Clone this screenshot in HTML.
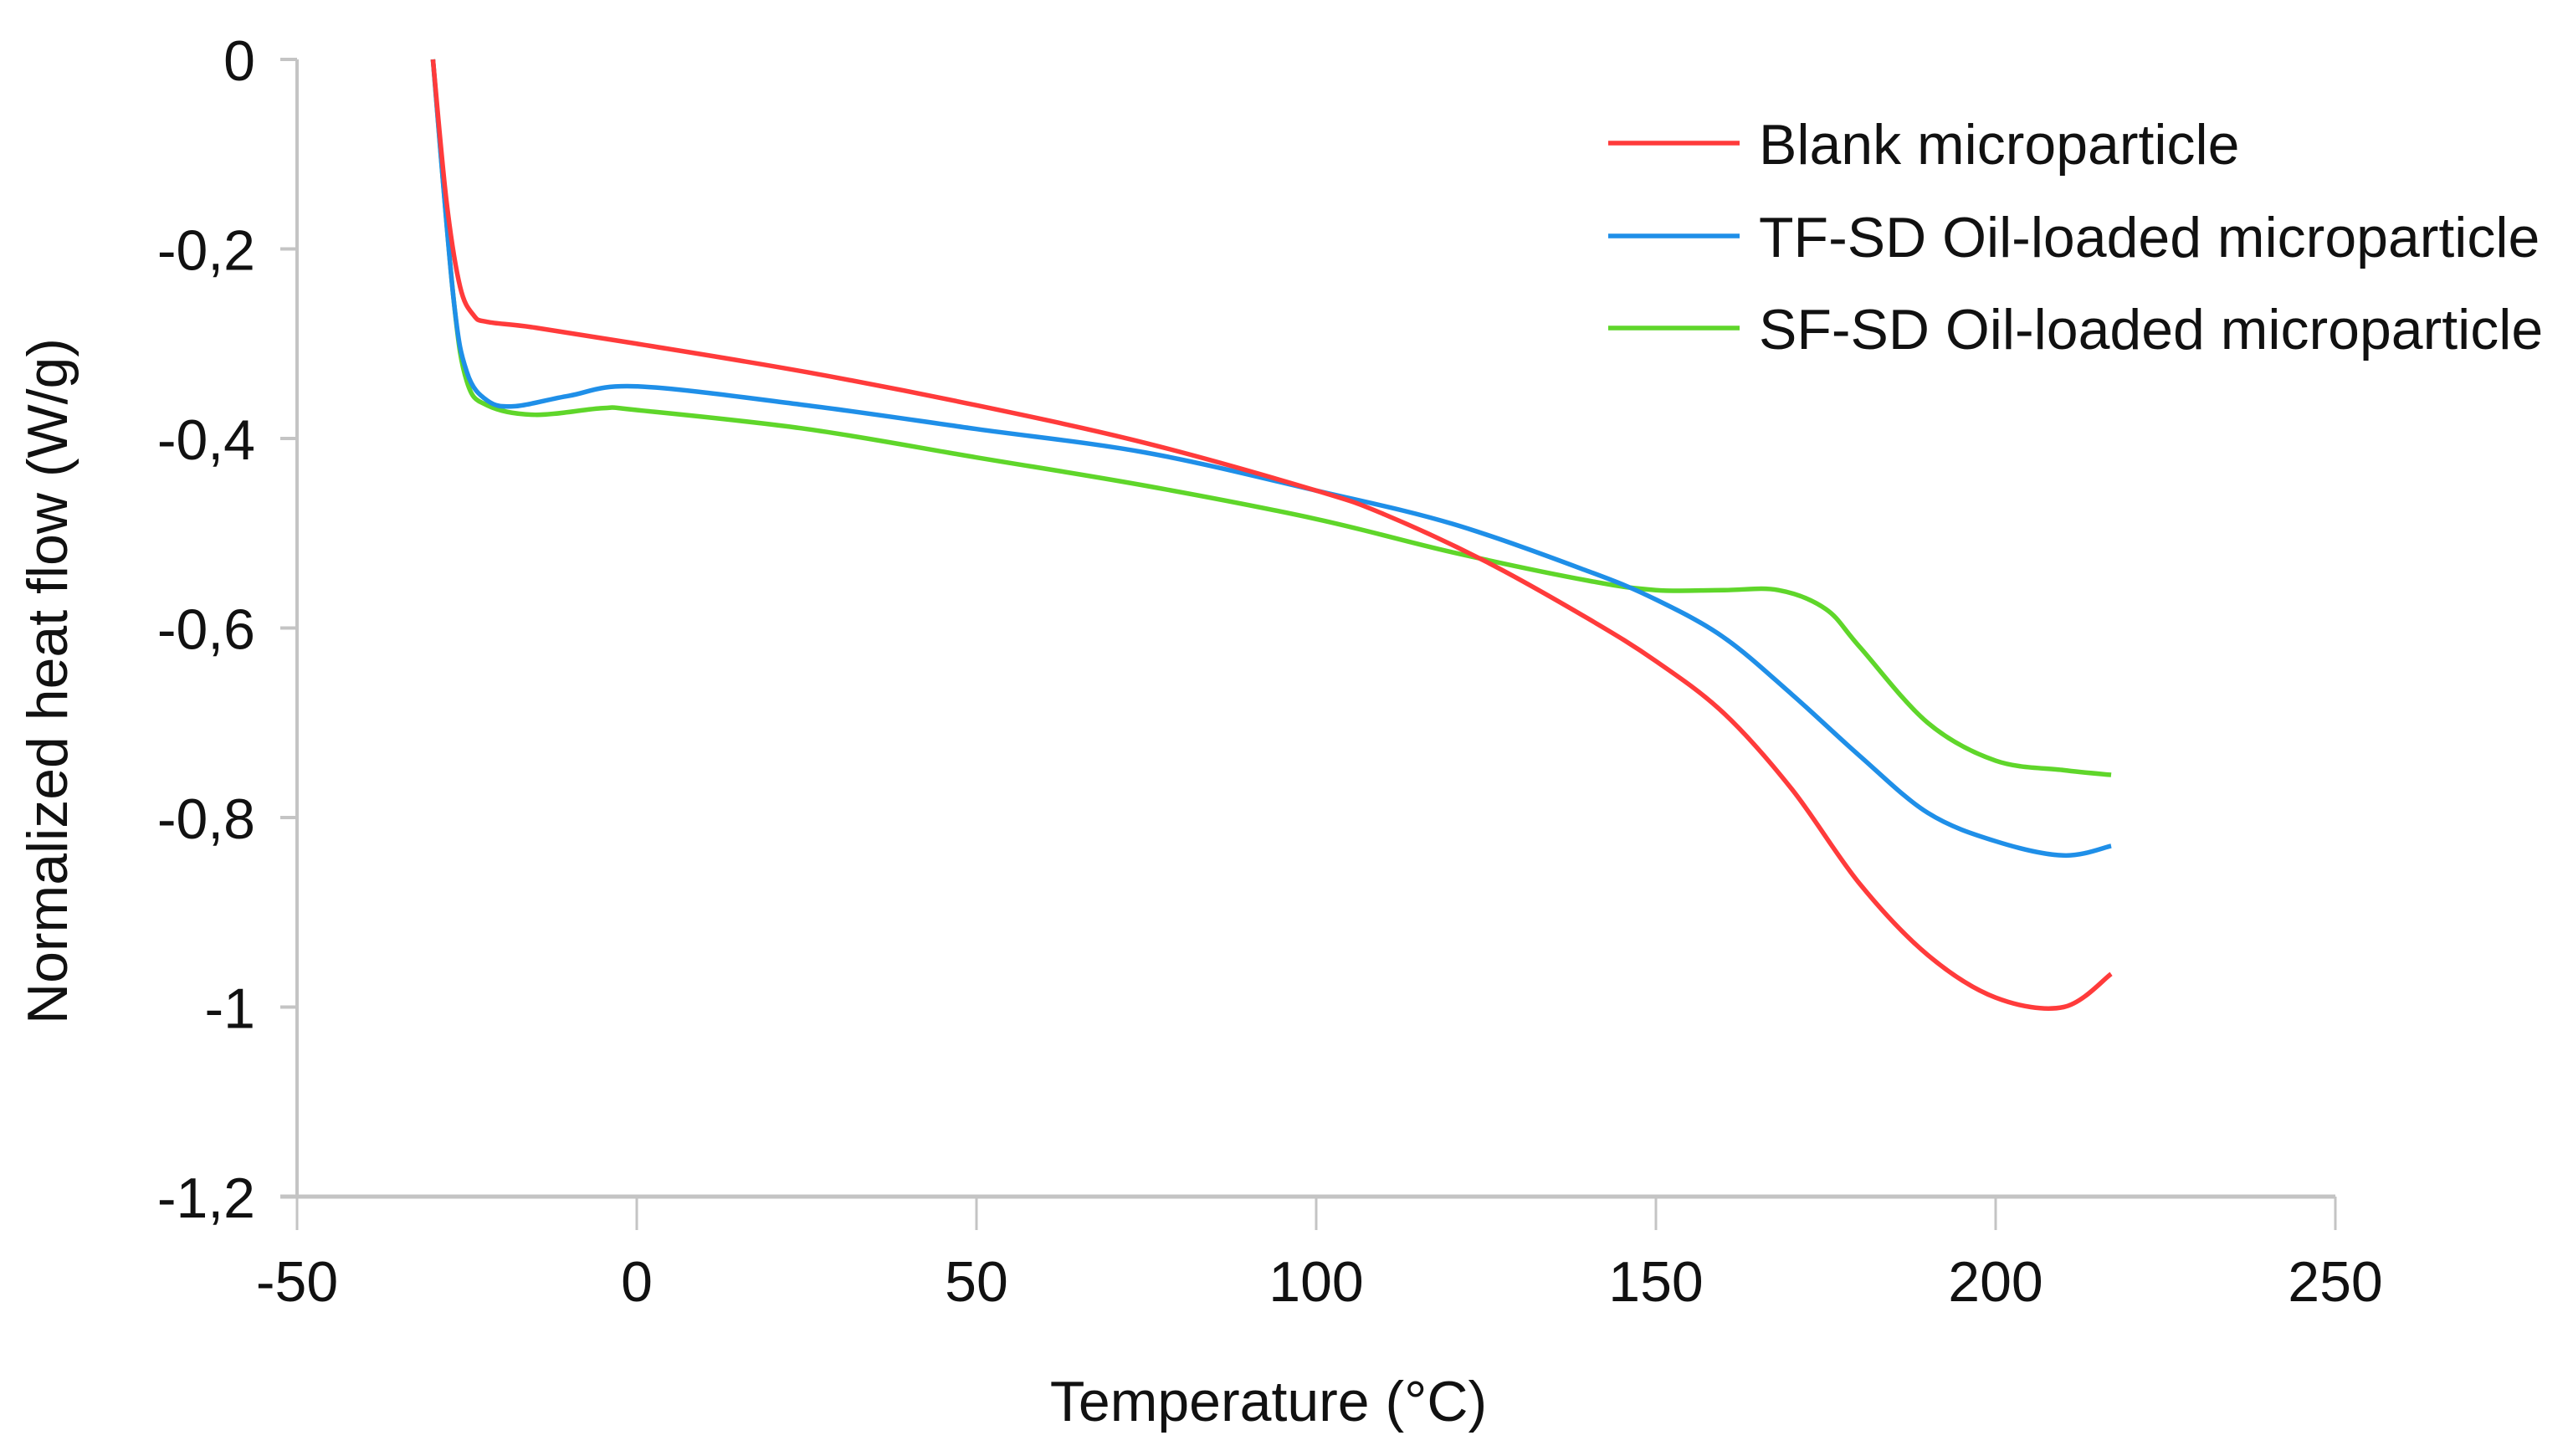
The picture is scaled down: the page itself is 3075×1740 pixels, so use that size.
<!DOCTYPE html>
<html><head><meta charset="utf-8"><style>
html,body{margin:0;padding:0;background:#fff;}
svg{display:block;font-family:"Liberation Sans",Arial,sans-serif;}
</style></head><body>
<svg id="chart" width="3075" height="1740" viewBox="0 0 3075 1740">
<g id="axes"></g>
<g id="series"></g>
<text x="1516" y="1698" font-size="68" text-anchor="middle" fill="#111">Temperature (°C)</text>
<text transform="translate(80,814) rotate(-90)" font-size="68" text-anchor="middle" fill="#111">Normalized heat flow (W/g)</text>
<g id="legend"></g>
</svg>
<script>
const xTicks = [-50, 0, 50, 100, 150, 200, 250];
const yTicks = [0, -0.2, -0.4, -0.6, -0.8, -1, -1.2];
const yTickLabels = ["0", "-0,2", "-0,4", "-0,6", "-0,8", "-1", "-1,2"];
const seriesNames = ["Blank microparticle", "TF-SD Oil-loaded microparticle", "SF-SD Oil-loaded microparticle"];
const blankX = [-30,-28,-26,-24,-22,-15,0,25,50,75,100,110,125,140,150,160,170,180,190,200,210,217];
const blankY = [0,-0.15,-0.24,-0.27,-0.277,-0.283,-0.30,-0.33,-0.365,-0.405,-0.455,-0.48,-0.53,-0.59,-0.635,-0.69,-0.77,-0.87,-0.945,-0.99,-1.0,-0.965];
const tfX = [-30,-27,-25,-22,-18,-10,0,25,50,75,100,120,140,150,160,170,180,190,200,210,217];
const tfY = [0,-0.25,-0.33,-0.36,-0.366,-0.355,-0.345,-0.365,-0.39,-0.415,-0.455,-0.49,-0.54,-0.57,-0.61,-0.67,-0.735,-0.795,-0.825,-0.84,-0.83];
const sfX = [-30,-27,-25,-22,-15,-5,0,25,50,75,100,120,140,150,160,168,175,180,190,200,210,217];
const sfY = [0,-0.25,-0.34,-0.365,-0.375,-0.368,-0.37,-0.39,-0.42,-0.45,-0.485,-0.52,-0.55,-0.56,-0.56,-0.56,-0.58,-0.62,-0.70,-0.74,-0.75,-0.755];
const colors = ["#ff3b3b", "#1f8fe8", "#5fd62a"];

const X0=355, X1=2791, Y0=71, Y1=1430;
function sx(v){return X0+(v+50)/300*(X1-X0);}
function sy(v){return Y0+(-v)/1.2*(Y1-Y0);}
const NS="http://www.w3.org/2000/svg";
function mk(tag,attrs,parent){const e=document.createElementNS(NS,tag);for(const k in attrs)e.setAttribute(k,attrs[k]);parent.appendChild(e);return e;}
const axes=document.getElementById('axes');
let yl=mk('line',{x1:X0,y1:Y0,x2:X0,y2:Y1,stroke:'#c4c4c4','stroke-width':4},axes);


let xl=mk('line',{x1:X0-20,y1:Y1,x2:X1,y2:Y1,stroke:'#c4c4c4','stroke-width':5},axes);


yTicks.forEach((t,i)=>{
  const y=sy(t);
  const tk=mk('line',{x1:X0-20,y1:y,x2:X0,y2:y,stroke:'#c4c4c4','stroke-width':4},axes);
  
  
  const tx=mk('text',{x:305,y:y+25,'font-size':68,'text-anchor':'end',fill:'#111'},axes);
  tx.textContent=yTickLabels[i];
  
  
});
xTicks.forEach(t=>{
  const x=sx(t);
  const tk=mk('line',{x1:x,y1:Y1,x2:x,y2:Y1+40,stroke:'#c4c4c4','stroke-width':3},axes);
  
  
  const tx=mk('text',{x:x,y:1555,'font-size':68,'text-anchor':'middle',fill:'#111'},axes);
  tx.textContent=String(t);
  
  
});
function smoothPath(xs,ys){
  const p=xs.map((x,i)=>[sx(x),sy(ys[i])]);
  let d='M'+p[0][0]+','+p[0][1];
  for(let i=0;i<p.length-1;i++){
    const p0=p[Math.max(0,i-1)],p1=p[i],p2=p[i+1],p3=p[Math.min(p.length-1,i+2)];
    const c1=[p1[0]+(p2[0]-p0[0])/6,p1[1]+(p2[1]-p0[1])/6];
    const c2=[p2[0]-(p3[0]-p1[0])/6,p2[1]-(p3[1]-p1[1])/6];
    d+=' C'+c1[0]+','+c1[1]+' '+c2[0]+','+c2[1]+' '+p2[0]+','+p2[1];
  }
  return d;
}
const sg=document.getElementById('series');
const data=[[blankX,blankY],[tfX,tfY],[sfX,sfY]];
const snames=['blank-line','tf-sd-line','sf-sd-line'];
[2,1,0].forEach(i=>{
  const pth=mk('path',{d:smoothPath(data[i][0],data[i][1]),fill:'none',stroke:colors[i],'stroke-width':5.5,'stroke-linejoin':'round'},sg);
  
  
});
const lg=document.getElementById('legend');
const rows=[171,282,392];
seriesNames.forEach((n,i)=>{
  const l=mk('line',{x1:1922,y1:rows[i],x2:2079,y2:rows[i],stroke:colors[i],'stroke-width':5.5},lg);
  
  
  const t=mk('text',{x:2102,y:rows[i]+25,'font-size':68,fill:'#111'},lg);
  t.textContent=n;
  
  
});
</script>
</body></html>
